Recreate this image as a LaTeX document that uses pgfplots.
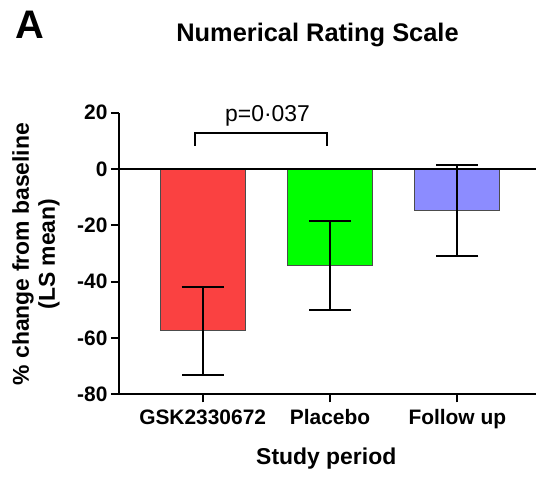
\documentclass[border=0pt]{standalone}
\usepackage{pgfplots}
\pgfplotsset{compat=1.18}
\usepackage{fontspec}
\setmainfont{Liberation Sans}

\definecolor{barred}{RGB}{250,65,65}
\definecolor{bargreen}{RGB}{0,255,0}
\definecolor{barblue}{RGB}{140,140,255}

\begin{document}
\begin{tikzpicture}
    \path[use as bounding box] (-119bp,-82.7bp) rectangle (417bp,394.3bp);
    \begin{axis}[
        at={(0,0)}, anchor=south west,
        scale only axis,
        width=417bp,
        height=281.6bp,
        xmin=-0.657, xmax=2.618,
        ymin=-80, ymax=20,
        xtick={0,1,2},
        xticklabels={GSK2330672,Placebo,Follow up},
        ytick={-80,-60,-40,-20,0,20},
        axis x line*=bottom,
        axis y line*=left,
        axis line style={line width=2bp, -},
        tick align=outside,
        major tick length=8bp,
        tick style={line width=2bp, black},
        /pgf/number format/assume math mode=true,
        ticklabel style={font=\fontsize{21}{24}\selectfont\bfseries},
        xticklabel style={yshift=-4bp},
        xlabel={Study period},
        ylabel={\% change from baseline\\(LS mean)},
        xlabel style={at={(axis description cs:0.497,-0.251)}, anchor=base,
            font=\fontsize{23}{26}\selectfont\bfseries},
        ylabel style={at={(axis description cs:-0.199,0.498)}, anchor=center,
            align=center, font=\fontsize{23}{26}\selectfont\bfseries},
        clip=false,
        ybar, bar width=85bp, bar shift=0pt,
        error bars/y dir=both, error bars/y explicit,
        error bars/error bar style={line width=2bp, black},
        error bars/error mark options={rotate=90, mark size=21bp, line width=2bp, black},
    ]
    \addplot[fill=barred, draw=black!70, line width=1bp]
        coordinates {(0,-57.4) +- (0,15.6)};
    \addplot[fill=bargreen, draw=black!70, line width=1bp]
        coordinates {(1,-34.3) +- (0,15.7)};
    \addplot[fill=barblue, draw=black!70, line width=1bp]
        coordinates {(2,-14.7) +- (0,16.2)};
    % zero reference line
    \addplot[sharp plot, black, line width=2bp, forget plot, error bars/y dir=none]
        coordinates {(-0.657,0) (2.618,0)};
    % significance bracket
    \draw[line width=2bp] (axis cs:-0.058,8.2) -- (axis cs:-0.058,12.7)
        -- (axis cs:0.979,12.7) -- (axis cs:0.979,8.2);
    \node[anchor=base, font=\fontsize{23}{26}\selectfont] at (axis cs:0.51,16.7) {p=0·037};
    \end{axis}
    \node[anchor=base, font=\fontsize{25.5}{30}\selectfont\bfseries] at (198.5bp,352.6bp) {Numerical Rating Scale};
    \node[anchor=base west, inner sep=0pt, font=\fontsize{40}{44}\selectfont\bfseries] at (-104bp,355.3bp) {A};
\end{tikzpicture}
\end{document}
